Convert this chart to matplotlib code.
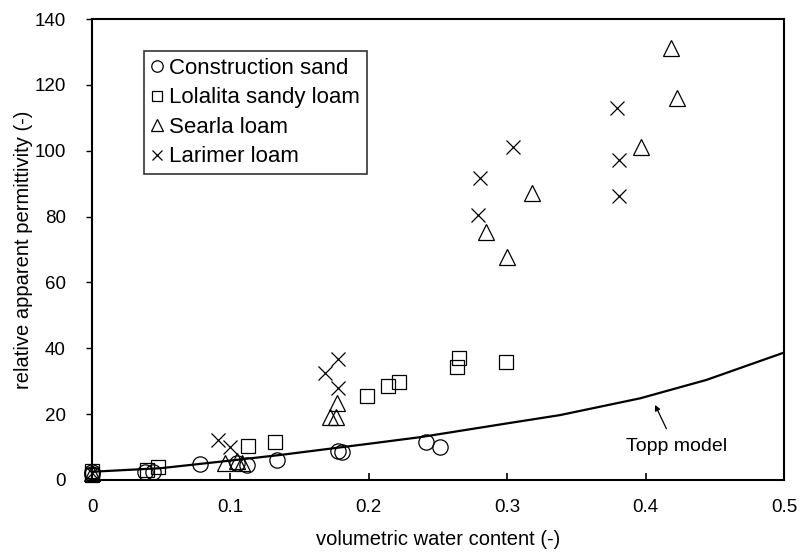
import matplotlib
matplotlib.use("Agg")
import matplotlib.pyplot as plt

plt.rcParams['font.family'] = ['Liberation Sans', 'DejaVu Sans']

# volumetric water content / relative apparent permittivity per soil
sand_theta = [0.0, 0.0, 0.038, 0.044, 0.078, 0.1045, 0.112, 0.1335, 0.178, 0.1805, 0.2413, 0.2514]
sand_eps = [1.8, 2.4, 2.4, 2.4, 4.9, 5.1, 4.6, 6.1, 8.9, 8.4, 11.4, 10.1]

loam_theta = [0.0, 0.0, 0.040, 0.048, 0.113, 0.132, 0.199, 0.214, 0.2216, 0.2654, 0.2635, 0.299]
loam_eps = [1.6, 2.6, 3.0, 4.0, 10.3, 11.4, 25.4, 28.5, 29.9, 37.0, 34.4, 35.8]

searla_theta = [0.0, 0.096, 0.1045, 0.108, 0.1768, 0.172, 0.1763, 0.2847, 0.2996, 0.3177, 0.397, 0.418, 0.4225]
searla_eps = [2.0, 5.1, 5.8, 5.3, 23.3, 19.1, 19.1, 75.4, 67.6, 87.1, 101.2, 131.1, 115.9]

larimer_theta = [0.0, 0.0913, 0.0997, 0.1684, 0.178, 0.178, 0.279, 0.2803, 0.304, 0.379, 0.3808, 0.3808]
larimer_eps = [2.2, 12.1, 10.1, 32.4, 36.7, 27.8, 80.5, 91.6, 101.2, 113.0, 97.2, 86.3]

# Topp model curve
topp_theta = [0.0, 0.05, 0.1, 0.136, 0.2, 0.237, 0.3, 0.338, 0.396, 0.444, 0.5]
topp_eps = [2.5, 3.6, 5.9, 7.6, 11.0, 13.0, 17.2, 19.7, 24.8, 30.4, 38.7]


def make_plot():
    fig = plt.figure(figsize=(8.01, 5.56), dpi=100)
    ax = fig.add_axes([0.1149, 0.1367, 0.8639, 0.8291])

    mk = dict(linestyle='none', markerfacecolor='none', markeredgecolor='black',
              markeredgewidth=0.9, clip_on=False)
    ax.plot(sand_theta, sand_eps, marker='o', markersize=11, label='Construction sand', **mk)
    ax.plot(loam_theta, loam_eps, marker='s', markersize=10.5, label='Lolalita sandy loam', **mk)
    ax.plot(searla_theta, searla_eps, marker='^', markersize=11, label='Searla loam', **mk)
    ax.plot(larimer_theta, larimer_eps, marker='x', markersize=10, label='Larimer loam', **mk)

    ax.plot(topp_theta, topp_eps, color='black', linewidth=1.6)

    # label with a short arrow pointing at the curve
    ax.annotate('', xy=(0.4068, 22.8), xytext=(0.415, 15.6),
                arrowprops=dict(arrowstyle='-|>', color='black', lw=0.9,
                                mutation_scale=8, shrinkA=0, shrinkB=0))
    ax.text(0.4225, 10.1, 'Topp model', ha='center', va='center', fontsize=14)

    ax.set_xlim(0, 0.5)
    ax.set_ylim(0, 140)
    ax.set_xticks([0, 0.1, 0.2, 0.3, 0.4, 0.5])
    ax.set_xticklabels(['0', '0.1', '0.2', '0.3', '0.4', '0.5'])
    ax.set_yticks(range(0, 141, 20))
    ax.tick_params(axis='x', direction='in', length=5, width=1.2, labelsize=13.5, pad=14)
    ax.tick_params(axis='y', direction='out', length=4, width=1.0, labelsize=13.5, pad=15)
    for s in ax.spines.values():
        s.set_linewidth(1.5)

    ax.set_xlabel('volumetric water content (-)', fontsize=14.5, labelpad=10)
    ax.set_ylabel('relative apparent permittivity (-)', fontsize=14.5, labelpad=1)

    leg = ax.legend(loc='upper left', bbox_to_anchor=(0.075, 0.93), borderaxespad=0,
                    fontsize=16, frameon=True, fancybox=False, edgecolor='black',
                    handlelength=0.55, handletextpad=0.3, borderpad=0.3,
                    labelspacing=0.38, markerscale=0.75)
    leg.get_frame().set_linewidth(1.2)

    fig.savefig('out.png', dpi=100)


if __name__ == '__main__':
    make_plot()
